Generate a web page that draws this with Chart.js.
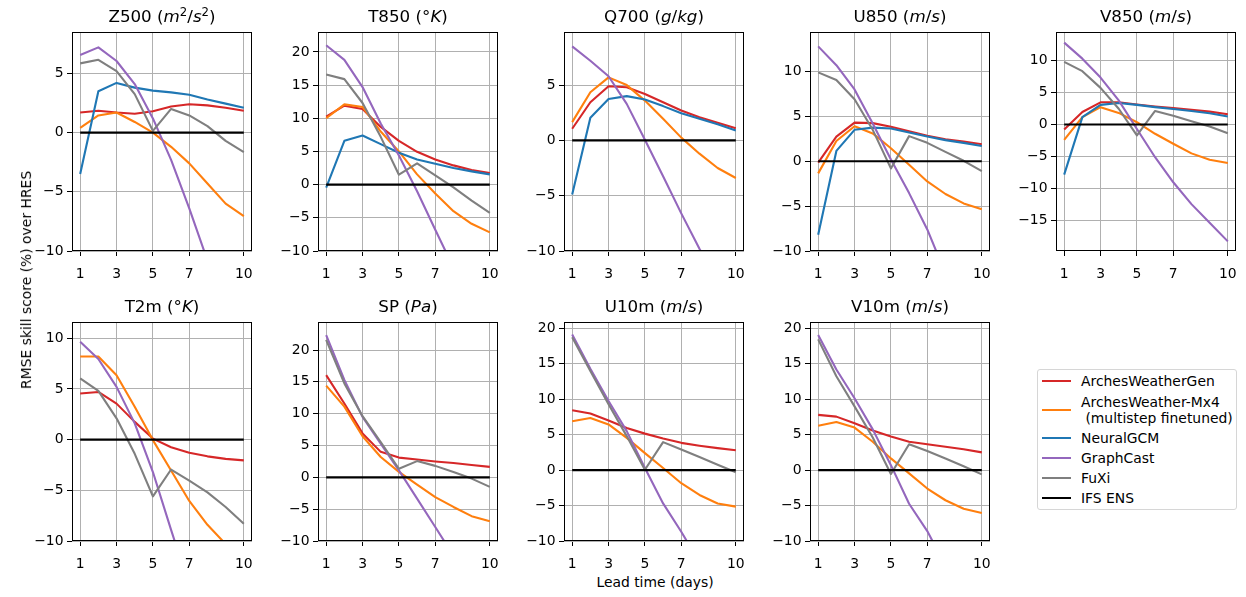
<!DOCTYPE html>
<html>
<head>
<meta charset="utf-8">
<script src="https://cdn.jsdelivr.net/npm/chart.js@4.4.1/dist/chart.umd.min.js"></script>
<style>
  html, body { margin: 0; padding: 0; background: #fff; }
  #fig { position: relative; width: 1246px; height: 597px; overflow: hidden; background: #fff;
         font-family: "DejaVu Sans", sans-serif; color: #000; }
  #fig canvas { position: absolute; z-index: 1; }
  .title { position: absolute; z-index: 2; font-size: 16.7px; line-height: 1; white-space: nowrap;
           transform: translate(-50%, -50%); }
  .title sup { font-size: 0.7em; vertical-align: 0.5em; line-height: 0; }
  .lbl { position: absolute; z-index: 2; font-size: 13.9px; line-height: 1; white-space: nowrap; }
  #legend { position: absolute; z-index: 2; left: 1037px; top: 369px; width: 200px; height: 141px;
            box-sizing: border-box; border: 1px solid #d6d6d6; border-radius: 3px; background: #fff; }
  .lg-line { position: absolute; left: 4px; width: 29px; height: 2px; }
  .lg-text { position: absolute; left: 43px; font-size: 13.9px; line-height: 16px; white-space: pre; }
</style>
</head>
<body>
<div id="fig"></div>
<script>
// ---------------- data ----------------
const days = [1, 2, 3, 4, 5, 6, 7, 8, 9, 10];
const xTicks = [1, 3, 5, 7, 10];
const variables = ['Z500', 'T850', 'Q700', 'U850', 'V850', 'T2m', 'SP', 'U10m', 'V10m'];
const unitsHtml = [
  '<i>m</i><sup>2</sup>/<i>s</i><sup>2</sup>', '°<i>K</i>', '<i>g</i>/<i>kg</i>', '<i>m</i>/<i>s</i>', '<i>m</i>/<i>s</i>',
  '°<i>K</i>', '<i>Pa</i>', '<i>m</i>/<i>s</i>', '<i>m</i>/<i>s</i>'
];
const models = ['ArchesWeatherGen', 'ArchesWeather-Mx4\n (multistep finetuned)', 'NeuralGCM', 'GraphCast', 'FuXi', 'IFS ENS'];
const colors = ['#d62728', '#ff7f0e', '#1f77b4', '#9467bd', '#7f7f7f', '#000000'];

const yMin = [-10, -10, -10, -10, -19.7, -10, -10, -10, -10];
const yMax = [8.5, 23.0, 9.8, 14.4, 14.4, 11.6, 24.4, 20.9, 20.9];
const yTicks = [
  [-10, -5, 0, 5],
  [-10, -5, 0, 5, 10, 15, 20],
  [-10, -5, 0, 5],
  [-10, -5, 0, 5, 10],
  [-15, -10, -5, 0, 5, 10],
  [-10, -5, 0, 5, 10],
  [-10, -5, 0, 5, 10, 15, 20],
  [-10, -5, 0, 5, 10, 15, 20],
  [-10, -5, 0, 5, 10, 15, 20]
];

// one array per variable, order: Z500, T850, Q700, U850, V850, T2m, SP, U10m, V10m
const archesWeatherGen = [
  [1.7, 1.85, 1.7, 1.6, 1.8, 2.2, 2.4, 2.3, 2.1, 1.85],
  [10.25, 11.9, 11.4, 8.7, 6.6, 4.95, 3.8, 2.9, 2.2, 1.75],
  [1.05, 3.45, 4.9, 4.8, 4.2, 3.45, 2.7, 2.1, 1.6, 1.1],
  [-0.15, 2.75, 4.3, 4.25, 3.85, 3.35, 2.85, 2.45, 2.2, 1.9],
  [-0.8, 1.95, 3.45, 3.45, 3.1, 2.8, 2.55, 2.3, 2.0, 1.6],
  [4.55, 4.7, 3.55, 1.75, 0.1, -0.75, -1.3, -1.65, -1.9, -2.05],
  [16.05, 11.6, 6.9, 4.0, 3.1, 2.8, 2.5, 2.25, 1.95, 1.65],
  [8.45, 8.0, 7.0, 5.95, 5.15, 4.45, 3.85, 3.45, 3.1, 2.8],
  [7.8, 7.55, 6.6, 5.6, 4.75, 4.0, 3.65, 3.3, 2.95, 2.5]
];
const archesWeatherMx4 = [
  [0.4, 1.45, 1.7, 0.9, 0.0, -1.2, -2.6, -4.3, -6.0, -7.05],
  [10.0, 12.1, 11.7, 8.0, 5.0, 1.55, -1.35, -4.0, -5.9, -7.2],
  [1.65, 4.35, 5.7, 5.0, 3.6, 1.95, 0.25, -1.2, -2.5, -3.4],
  [-1.35, 2.25, 3.9, 3.1, 1.45, -0.4, -2.25, -3.65, -4.7, -5.35],
  [-2.4, 1.15, 2.7, 1.8, 0.35, -1.45, -3.0, -4.5, -5.5, -6.0],
  [8.2, 8.2, 6.35, 3.25, -0.05, -3.05, -6.05, -8.4, -10.3, -11.9],
  [14.4, 11.1, 6.45, 3.2, 0.85, -1.15, -3.1, -4.65, -6.1, -6.9],
  [6.9, 7.35, 6.45, 4.55, 2.4, 0.3, -1.85, -3.5, -4.7, -5.15],
  [6.25, 6.8, 6.0, 4.0, 1.65, -0.45, -2.6, -4.25, -5.45, -6.05]
];
const neuralGCM = [
  [-3.5, 3.5, 4.2, 3.8, 3.55, 3.4, 3.2, 2.8, 2.45, 2.1],
  [-0.45, 6.6, 7.4, 6.1, 4.8, 3.8, 3.15, 2.5, 2.0, 1.55],
  [-4.9, 2.05, 3.75, 4.0, 3.7, 3.1, 2.45, 1.95, 1.45, 0.9],
  [-8.2, 1.15, 3.5, 3.75, 3.65, 3.2, 2.75, 2.35, 2.05, 1.7],
  [-7.8, 1.15, 3.05, 3.35, 3.05, 2.7, 2.4, 2.1, 1.75, 1.25],
  null, null, null, null
];
const graphCast = [
  [6.55, 7.2, 6.05, 4.1, 1.2, -2.3, -6.4, -10.8, -15.0, -19.0],
  [21.0, 18.8, 14.7, 9.2, 4.4, -1.0, -6.8, -12.5, -18.0, -23.0],
  [8.5, 7.2, 5.8, 3.3, 0.05, -3.25, -6.6, -9.8, -12.8, -15.8],
  [12.8, 10.7, 8.0, 4.2, 0.2, -3.55, -7.6, -12.5, -17.0, -21.0],
  [12.75, 10.25, 7.3, 3.75, -0.7, -5.1, -9.0, -12.4, -15.3, -18.2],
  [9.65, 7.95, 5.2, 1.6, -3.2, -8.9, -14.5, -20.0, -25.0, -30.0],
  [22.35, 15.3, 9.5, 5.3, 1.1, -3.35, -7.8, -12.3, -16.8, -21.3],
  [19.15, 14.3, 9.75, 5.5, 0.3, -4.7, -8.7, -13.0, -17.5, -22.0],
  [19.05, 14.2, 10.15, 5.75, 0.7, -4.75, -8.6, -13.5, -18.0, -22.5]
];
const fuXi = [
  [5.85, 6.15, 5.2, 3.25, 0.15, 2.0, 1.45, 0.55, -0.7, -1.65],
  [16.6, 15.9, 12.3, 7.2, 1.5, 3.2, 1.4, -0.4, -2.4, -4.25],
  null,
  [9.9, 9.05, 6.9, 3.5, -0.8, 2.8, 2.05, 1.05, 0.05, -1.1],
  [9.75, 8.3, 5.7, 2.45, -1.7, 2.1, 1.35, 0.5, -0.3, -1.35],
  [6.05, 4.8, 2.1, -1.4, -5.6, -2.95, -4.05, -5.2, -6.65, -8.3],
  [21.6, 14.75, 9.6, 5.55, 1.35, 2.55, 1.8, 0.85, -0.2, -1.5],
  [18.75, 14.0, 9.3, 4.8, 0.05, 3.95, 2.9, 1.85, 0.75, -0.3],
  [18.45, 13.25, 9.0, 4.6, -0.55, 3.65, 2.7, 1.65, 0.55, -0.6]
];
const ifsEns = [0, 0, 0, 0, 0, 0, 0, 0, 0, 0];

// ---------------- layout ----------------
const PLOT_LEFTS = [72, 318, 564, 810, 1056];
const PLOT_TOPS = [32, 322];
const PW = 180, PH = 219;
const YW = 50, XH = 32, PT = 14, PR = 14;
const FONT = 'DejaVu Sans';
const TICK_SIZE = 13.9;

const fig = document.getElementById('fig');
const seriesByModel = [archesWeatherGen, archesWeatherMx4, neuralGCM, graphCast, fuXi, variables.map(() => ifsEns)];

const frame = {
  id: 'frame',
  afterDatasetsDraw(chart) {
    const { ctx, chartArea: a } = chart;
    ctx.save();
    ctx.strokeStyle = '#000';
    ctx.lineWidth = 1;
    ctx.strokeRect(Math.round(a.left) + 0.5, Math.round(a.top) + 0.5,
                   Math.round(a.right - a.left) - 1, Math.round(a.bottom - a.top) - 1);
    ctx.restore();
  }
};

const fmt = v => String(v).replace('-', '\u2212');

variables.forEach((name, i) => {
  const col = i % 5, row = Math.floor(i / 5);
  const pl = PLOT_LEFTS[col], pt = PLOT_TOPS[row];

  const t = document.createElement('div');
  t.className = 'title';
  t.style.left = (pl + PW / 2) + 'px';
  t.style.top = (pt - 16) + 'px';
  t.innerHTML = name + ' (' + unitsHtml[i] + ')';
  fig.appendChild(t);

  const cv = document.createElement('canvas');
  cv.width = YW + PW + PR;
  cv.height = PT + PH + XH;
  cv.style.left = (pl - YW) + 'px';
  cv.style.top = (pt - PT) + 'px';
  fig.appendChild(cv);

  const datasets = [];
  seriesByModel.forEach((ser, k) => {
    const vals = ser[i];
    if (!vals) return;
    datasets.push({
      label: models[k],
      data: days.map((d, j) => ({ x: d, y: vals[j] })),
      borderColor: colors[k],
      backgroundColor: colors[k],
      borderWidth: 2.1,
      pointRadius: 0,
      tension: 0,
      fill: false,
      borderJoinStyle: 'round',
      borderCapStyle: 'butt',
      clip: 0,
      order: 10 - k
    });
  });

  const gridCommon = { color: '#b0b0b0', lineWidth: 1, tickColor: '#000', tickLength: 5, tickWidth: 1, drawTicks: true };

  new Chart(cv, {
    type: 'line',
    data: { datasets },
    options: {
      responsive: false,
      animation: false,
      events: [],
      layout: { padding: { top: PT, right: PR, left: 0, bottom: 0 } },
      plugins: { legend: { display: false }, tooltip: { enabled: false }, title: { display: false } },
      scales: {
        x: {
          type: 'linear', min: 0.55, max: 10.45, bounds: 'data',
          afterBuildTicks: s => { s.ticks = xTicks.map(v => ({ value: v })); },
          afterFit: s => { s.height = XH; },
          grid: gridCommon,
          border: { display: false },
          ticks: { font: { family: FONT, size: TICK_SIZE }, color: '#000', padding: 10, maxRotation: 0, autoSkip: false, callback: v => fmt(v) }
        },
        y: {
          type: 'linear', min: yMin[i], max: yMax[i], bounds: 'data',
          afterBuildTicks: s => { s.ticks = yTicks[i].map(v => ({ value: v })); },
          afterFit: s => { s.width = YW; },
          grid: gridCommon,
          border: { display: false },
          ticks: { font: { family: FONT, size: TICK_SIZE }, color: '#000', padding: 3.5, autoSkip: false, callback: v => fmt(v) }
        }
      }
    },
    plugins: [frame]
  });
});

// axis labels
const yl = document.createElement('div');
yl.className = 'lbl';
yl.textContent = 'RMSE skill score (%) over HRES';
yl.style.left = '27px'; yl.style.top = '280px';
yl.style.transform = 'translate(-50%, -50%) rotate(-90deg)';
fig.appendChild(yl);

const xl = document.createElement('div');
xl.className = 'lbl';
xl.textContent = 'Lead time (days)';
xl.style.left = '655px'; xl.style.top = '583px';
xl.style.transform = 'translate(-50%, -50%)';
fig.appendChild(xl);

// legend
const lg = document.createElement('div');
lg.id = 'legend';
const rowCenters = [11, 40, 68, 88, 108, 128];
models.forEach((m, k) => {
  const ln = document.createElement('div');
  ln.className = 'lg-line';
  ln.style.top = (rowCenters[k] - 1) + 'px';
  ln.style.background = colors[k];
  lg.appendChild(ln);
  const tx = document.createElement('div');
  tx.className = 'lg-text';
  const lines = m.split('\n').length;
  tx.style.top = (rowCenters[k] - lines * 8) + 'px';
  tx.textContent = m;
  lg.appendChild(tx);
});
fig.appendChild(lg);
</script>
</body>
</html>
